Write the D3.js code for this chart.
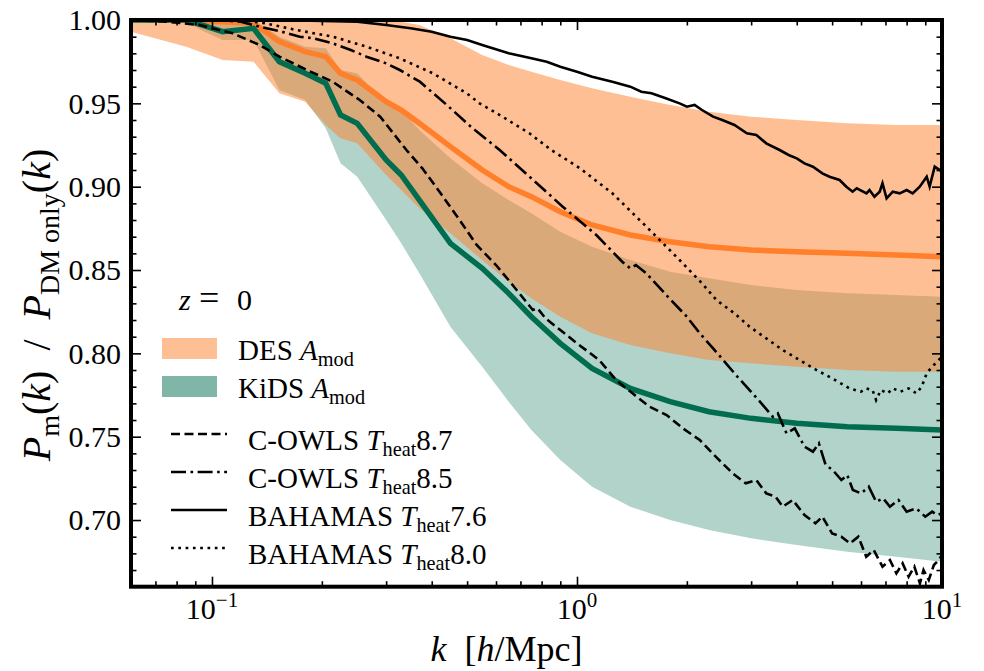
<!DOCTYPE html>
<html>
<head>
<meta charset="utf-8">
<script src="https://cdn.jsdelivr.net/npm/d3@7"></script>
<style>
  body { margin: 0; background: #fff; }
  svg { display: block; }
  text { font-family: "Liberation Serif", "Times New Roman", "DejaVu Serif", serif; }
</style>
</head>
<body>
<svg width="984" height="671"></svg>
<script>
// ---- data ----
// A_mod bands (DES / KiDS) on a common k grid [h/Mpc]
const kBand   = [0.06, 0.085, 0.107, 0.13, 0.153, 0.18, 0.205, 0.225, 0.25, 0.3, 0.33, 0.37, 0.45, 0.55, 0.65, 0.75, 0.9, 1.1, 1.4, 1.8, 2.3, 3.0, 4.0, 5.5, 7.5, 10];
const desMid  = [1.000, 1.000, 0.999, 0.998, 0.987, 0.981, 0.978, 0.968, 0.964, 0.951, 0.946, 0.938, 0.924, 0.910, 0.900, 0.894, 0.885, 0.877, 0.871, 0.867, 0.864, 0.862, 0.861, 0.860, 0.859, 0.858];
const desHi   = [1.000, 1.000, 1.000, 1.000, 1.000, 1.000, 1.000, 1.000, 1.000, 1.000, 0.999, 0.997, 0.989, 0.979, 0.973, 0.969, 0.964, 0.959, 0.954, 0.949, 0.945, 0.942, 0.940, 0.938, 0.937, 0.937];
const desLo   = [0.993, 0.984, 0.976, 0.975, 0.956, 0.951, 0.937, 0.929, 0.926, 0.907, 0.898, 0.887, 0.872, 0.856, 0.843, 0.833, 0.822, 0.812, 0.805, 0.800, 0.796, 0.794, 0.792, 0.790, 0.789, 0.789];
const kidsMid = [1.000, 1.000, 0.993, 0.995, 0.975, 0.968, 0.962, 0.943, 0.938, 0.916, 0.907, 0.892, 0.866, 0.851, 0.836, 0.822, 0.806, 0.791, 0.779, 0.771, 0.765, 0.761, 0.758, 0.756, 0.755, 0.754];
const kidsHi  = [1.000, 1.000, 0.999, 1.000, 0.990, 0.984, 0.983, 0.970, 0.968, 0.950, 0.946, 0.934, 0.917, 0.902, 0.892, 0.884, 0.873, 0.864, 0.856, 0.849, 0.845, 0.841, 0.838, 0.836, 0.835, 0.834];
const kidsLo  = [1.000, 0.998, 0.988, 0.988, 0.958, 0.952, 0.935, 0.914, 0.906, 0.880, 0.866, 0.848, 0.816, 0.792, 0.771, 0.754, 0.736, 0.720, 0.708, 0.700, 0.694, 0.689, 0.685, 0.681, 0.678, 0.675];

// simulations
const cowls87K = [0.06, 0.075, 0.0925, 0.114, 0.135, 0.153, 0.182, 0.214, 0.254, 0.289, 0.341, 0.377, 0.42, 0.477, 0.531, 0.6, 0.655, 0.757, 0.78, 0.82, 0.9, 1.0, 1.15, 1.28, 1.42, 1.58, 1.76, 1.95, 2.17, 2.4, 2.67, 2.9, 3.1, 3.3, 3.5, 3.66, 3.9, 4.2, 4.5, 4.7, 5.0, 5.3, 5.6, 5.9, 6.2, 6.5, 6.87, 7.2, 7.5, 7.8, 8.1, 8.4, 8.7, 8.9, 9.2, 9.5, 9.8, 10];
const cowls87  = [1.000, 0.999, 0.997, 0.992, 0.985, 0.978, 0.970, 0.963, 0.952, 0.942, 0.922, 0.911, 0.897, 0.880, 0.865, 0.853, 0.843, 0.826, 0.827, 0.821, 0.814, 0.806, 0.796, 0.784, 0.776, 0.768, 0.763, 0.755, 0.748, 0.738, 0.728, 0.722, 0.724, 0.716, 0.714, 0.708, 0.712, 0.703, 0.698, 0.702, 0.692, 0.690, 0.686, 0.690, 0.678, 0.682, 0.672, 0.676, 0.668, 0.674, 0.666, 0.672, 0.662, 0.670, 0.664, 0.673, 0.676, 0.679];

const cowls85K = [0.06, 0.1, 0.12, 0.135, 0.155, 0.174, 0.19, 0.214, 0.24, 0.265, 0.3, 0.327, 0.371, 0.44, 0.518, 0.614, 0.741, 0.914, 1.13, 1.33, 1.4, 1.45, 1.55, 1.79, 2.0, 2.17, 2.36, 2.56, 2.75, 2.97, 3.2, 3.44, 3.55, 3.75, 3.95, 4.2, 4.43, 4.6, 4.8, 5.02, 5.3, 5.5, 5.7, 6.0, 6.3, 6.6, 6.9, 7.2, 7.6, 8.0, 8.5, 9.0, 9.4, 9.7, 10];
const cowls85  = [1.000, 1.000, 0.999, 0.996, 0.993, 0.990, 0.989, 0.986, 0.982, 0.978, 0.974, 0.970, 0.963, 0.949, 0.935, 0.922, 0.906, 0.888, 0.871, 0.855, 0.851, 0.853, 0.848, 0.833, 0.822, 0.812, 0.803, 0.794, 0.786, 0.778, 0.770, 0.762, 0.764, 0.752, 0.755, 0.744, 0.741, 0.746, 0.733, 0.730, 0.724, 0.727, 0.718, 0.716, 0.720, 0.711, 0.713, 0.708, 0.712, 0.705, 0.707, 0.702, 0.705, 0.703, 0.704];

const bah76K = [0.06, 0.15, 0.25, 0.3, 0.35, 0.4, 0.45, 0.5, 0.55, 0.65, 0.75, 0.826, 0.9, 1.0, 1.1, 1.25, 1.4, 1.5, 1.6, 1.75, 1.91, 2.0, 2.1, 2.2, 2.36, 2.5, 2.7, 2.92, 3.1, 3.3, 3.59, 3.8, 4.0, 4.2, 4.43, 4.7, 4.92, 5.24, 5.47, 5.69, 5.84, 6.21, 6.33, 6.53, 6.75, 6.87, 7.05, 7.33, 7.66, 8.0, 8.31, 8.69, 9.08, 9.25, 9.55, 10];
const bah76  = [1.000, 1.000, 0.999, 0.997, 0.995, 0.993, 0.990, 0.988, 0.985, 0.980, 0.977, 0.975, 0.972, 0.969, 0.966, 0.963, 0.960, 0.957, 0.956, 0.953, 0.950, 0.948, 0.949, 0.946, 0.942, 0.940, 0.937, 0.932, 0.931, 0.926, 0.922, 0.919, 0.917, 0.914, 0.912, 0.908, 0.906, 0.904, 0.900, 0.897, 0.899, 0.896, 0.898, 0.894, 0.897, 0.902, 0.893, 0.897, 0.896, 0.898, 0.896, 0.900, 0.906, 0.900, 0.912, 0.909];

const bah80K = [0.06, 0.12, 0.14, 0.17, 0.214, 0.265, 0.327, 0.403, 0.499, 0.541, 0.614, 0.741, 0.85, 1.02, 1.25, 1.55, 1.91, 2.2, 2.41, 2.7, 2.97, 3.3, 3.66, 4.0, 4.53, 5.0, 5.58, 6.0, 6.2, 6.45, 6.6, 6.8, 7.1, 7.33, 7.7, 8.1, 8.51, 8.8, 9.08, 9.4, 9.7, 10];
const bah80  = [1.000, 1.000, 0.998, 0.994, 0.990, 0.984, 0.977, 0.968, 0.956, 0.950, 0.943, 0.932, 0.922, 0.911, 0.896, 0.876, 0.856, 0.842, 0.832, 0.824, 0.816, 0.809, 0.802, 0.797, 0.790, 0.785, 0.779, 0.777, 0.779, 0.778, 0.772, 0.778, 0.776, 0.779, 0.777, 0.779, 0.776, 0.780, 0.788, 0.792, 0.795, 0.798];

// axes
const xMajor = [0.1, 1, 10];
const xMajorExp = ["\u22121", "0", "1"];
const xMinor = [0.07, 0.08, 0.09, 0.2, 0.3, 0.4, 0.5, 0.6, 0.7, 0.8, 0.9, 2, 3, 4, 5, 6, 7, 8, 9];
const yMajor = [0.70, 0.75, 0.80, 0.85, 0.90, 0.95, 1.00];
const yMinor = [0.67, 0.68, 0.69, 0.71, 0.72, 0.73, 0.74, 0.76, 0.77, 0.78, 0.79, 0.81, 0.82, 0.83, 0.84, 0.86, 0.87, 0.88, 0.89, 0.91, 0.92, 0.93, 0.94, 0.96, 0.97, 0.98, 0.99];

// ---- layout ----
const margin = { top: 20, right: 42, bottom: 84.3, left: 131 },
      width = 984 - margin.left - margin.right,
      height = 671 - margin.top - margin.bottom;

const svg = d3.select("svg");
const g = svg.append("g")
  .attr("transform", `translate(${margin.left},${margin.top})`);

const x = d3.scaleLog().domain([0.06, 10]).range([0, width]);
const y = d3.scaleLinear().domain([0.66, 1.0]).range([height, 0]);

g.append("clipPath").attr("id", "clip")
  .append("rect").attr("width", width).attr("height", height);
const plot = g.append("g").attr("clip-path", "url(#clip)");

const area = d3.area().x(d => x(d.k)).y0(d => y(d.lo)).y1(d => y(d.hi));
const line = d3.line().x(d => x(d.k)).y(d => y(d.v));

const kids = kBand.map((k, i) => ({ k, lo: kidsLo[i], hi: kidsHi[i], v: kidsMid[i] }));
const des  = kBand.map((k, i) => ({ k, lo: desLo[i], hi: desHi[i], v: desMid[i] }));

const KIDS = "#006d4f", DES = "#ff7f2a";

plot.append("path").datum(kids).attr("d", area)
  .attr("fill", KIDS).attr("fill-opacity", 0.3);
plot.append("path").datum(des).attr("d", area)
  .attr("fill", DES).attr("fill-opacity", 0.5);

plot.append("path").datum(des).attr("d", line)
  .attr("fill", "none").attr("stroke", DES).attr("stroke-width", 5.5);
plot.append("path").datum(kids).attr("d", line)
  .attr("fill", "none").attr("stroke", KIDS).attr("stroke-width", 5.5);

// simulation curves
const sims = [
  { k: cowls87K, v: cowls87, dash: "9,4.5" },
  { k: cowls85K, v: cowls85, dash: "15,4.5,2.6,4.5" },
  { k: bah76K,   v: bah76,   dash: null },
  { k: bah80K,   v: bah80,   dash: "2.7,4.6" }
];
sims.forEach(s => {
  plot.append("path")
    .datum(s.k.map((k, i) => ({ k, v: s.v[i] })))
    .attr("d", line)
    .attr("fill", "none")
    .attr("stroke", "#000")
    .attr("stroke-width", 2.6)
    .attr("stroke-dasharray", s.dash);
});

// ---- axes (ticks inward on all four sides) ----
function ticks(axis, vals, size, transform) {
  const a = g.append("g").attr("transform", transform || null)
    .call(axis.tickValues(vals).tickSize(-size).tickFormat(""));
  a.select(".domain").remove();
  a.selectAll("line").attr("stroke", "#000").attr("stroke-width", 1.6);
  return a;
}
ticks(d3.axisBottom(x), xMajor, 10, `translate(0,${height})`);
ticks(d3.axisBottom(x), xMinor, 5.5, `translate(0,${height})`);
ticks(d3.axisTop(x), xMajor, 10);
ticks(d3.axisTop(x), xMinor, 5.5);
ticks(d3.axisLeft(y), yMajor, 10);
ticks(d3.axisLeft(y), yMinor, 5.5);
ticks(d3.axisRight(y), yMajor, 10, `translate(${width},0)`);
ticks(d3.axisRight(y), yMinor, 5.5, `translate(${width},0)`);

// y tick labels
g.selectAll(".ylab").data(yMajor).enter().append("text")
  .attr("x", -10).attr("y", d => y(d)).attr("dy", "0.34em")
  .attr("text-anchor", "end").attr("font-size", 30)
  .text(d => d.toFixed(2));

// x tick labels 10^n
xMajor.forEach((v, i) => {
  const t = g.append("text")
    .attr("x", x(v)).attr("y", height + 32)
    .attr("text-anchor", "middle").attr("font-size", 30);
  t.append("tspan").text("10");
  t.append("tspan").attr("font-size", 21).attr("dy", -12).text(xMajorExp[i]);
});

// frame
g.append("rect").attr("width", width).attr("height", height)
  .attr("fill", "none").attr("stroke", "#000").attr("stroke-width", 4);

// ---- rich text helper (italic / subscript pieces) ----
function rich(sel, parts, size) {
  let shift = 0;
  parts.forEach(p => {
    const target = p.sub ? size * 0.22 : 0;
    const ts = sel.append("tspan").text(p.t);
    if (p.it) ts.attr("font-style", "italic");
    if (p.sub) ts.attr("font-size", size * 0.7);
    if (target !== shift) { ts.attr("dy", target - shift); shift = target; }
  });
}

// axis labels
const xl = svg.append("text")
  .attr("x", margin.left + width * 0.5 - 30).attr("y", 661)
  .attr("text-anchor", "middle").attr("font-size", 36)
  .attr("xml:space", "preserve");
rich(xl, [{ t: "k", it: true }, { t: "  [" }, { t: "h", it: true }, { t: "/Mpc]" }], 36);

const yl = svg.append("text")
  .attr("transform", "translate(50,305) rotate(-90)")
  .attr("text-anchor", "middle").attr("font-size", 40)
  .attr("xml:space", "preserve");
rich(yl, [
  { t: "P", it: true }, { t: "m", sub: true }, { t: "(" }, { t: "k", it: true }, { t: ")  /  " },
  { t: "P", it: true }, { t: "DM only", sub: true }, { t: "(" }, { t: "k", it: true }, { t: ")" }
], 40);

// ---- legend ----
const leg = svg.append("g").attr("font-size", 29);
const z = leg.append("text").attr("y", 310).attr("font-size", 30);
z.append("tspan").attr("x", 179).attr("font-style", "italic").text("z");
z.append("tspan").attr("x", 199).attr("font-size", 36).text("=");
z.append("tspan").attr("x", 237).text("0");

const patches = [
  { fill: "#ffbf95", parts: [{ t: "DES " }, { t: "A", it: true }, { t: "mod", sub: true }] },
  { fill: "#7fb6a7", parts: [{ t: "KiDS " }, { t: "A", it: true }, { t: "mod", sub: true }] }
];
patches.forEach((p, i) => {
  const yy = 338 + i * 38;
  leg.append("rect").attr("x", 162).attr("y", yy).attr("width", 55).attr("height", 21)
    .attr("fill", p.fill);
  rich(leg.append("text").attr("x", 238).attr("y", yy + 22), p.parts, 29);
});

const simNames = [
  ["C-OWLS ", "8.7"], ["C-OWLS ", "8.5"], ["BAHAMAS ", "7.6"], ["BAHAMAS ", "8.0"]
];
sims.forEach((s, i) => {
  const yy = 434 + i * 38;
  leg.append("line").attr("x1", 171).attr("x2", 227).attr("y1", yy).attr("y2", yy)
    .attr("stroke", "#000").attr("stroke-width", 2.6).attr("stroke-dasharray", s.dash);
  rich(leg.append("text").attr("x", 248).attr("y", yy + 16), [
    { t: simNames[i][0] }, { t: "T", it: true }, { t: "heat", sub: true }, { t: simNames[i][1] }
  ], 29);
});
</script>
</body>
</html>
